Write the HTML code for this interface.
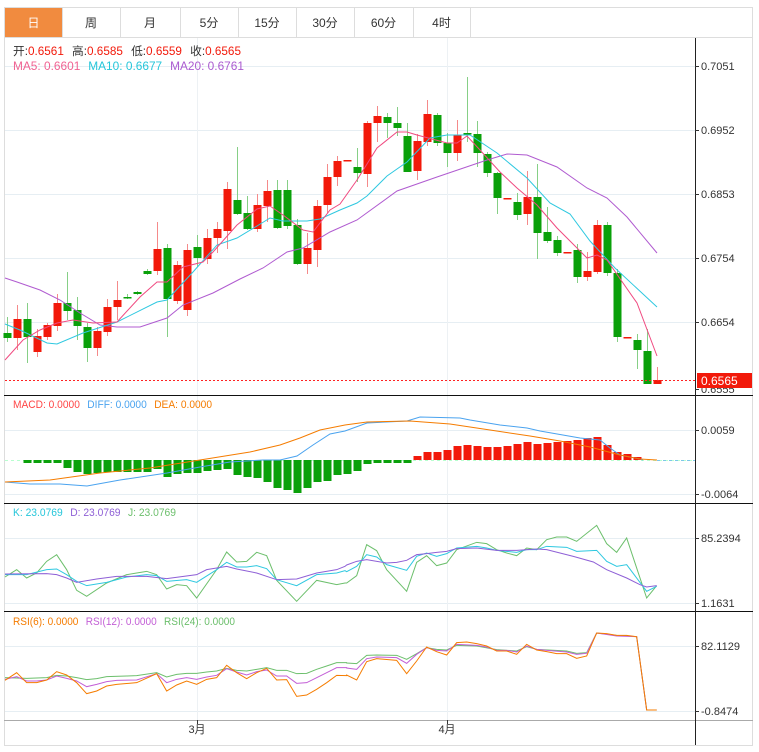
<!DOCTYPE html>
<html><head><meta charset="utf-8"><style>
body{margin:0;background:#fff;width:759px;height:752px;overflow:hidden;font-family:"Liberation Sans","Noto Sans CJK SC",sans-serif}
svg{position:absolute;left:0;top:0}
text{font-family:"Liberation Sans","Noto Sans CJK SC",sans-serif}
</style></head><body>
<svg id="s" width="759" height="752" xmlns="http://www.w3.org/2000/svg"></svg>
<script>
const s=document.getElementById('s');let h='';
const R='#f2190a',G='#0aa00a';
h+='<rect x="4.5" y="7.5" width="748" height="30" fill="#fff" stroke="#ddd"/>';
const tabs=[['日',5,62],['周',62,120],['月',120,180],['5分',180,238],['15分',238,296],['30分',296,354],['60分',354,413],['4时',413,470]];
tabs.forEach((t,i)=>{if(i==0)h+=`<rect x="${t[1]}" y="8" width="${t[2]-t[1]}" height="29" fill="#f18b3f"/>`;
h+=`<line x1="${t[2]+.5}" y1="8" x2="${t[2]+.5}" y2="37" stroke="#ddd"/>`;
h+=`<text x="${(t[1]+t[2])/2}" y="27" font-size="12" text-anchor="middle" fill="${i==0?'#fff':'#333'}">${t[0]}</text>`;});
h+='<rect x="4.5" y="37.5" width="748" height="708" fill="none" stroke="#ddd"/>';
[66,130,194,258,322,430,494,538,603,646,711].forEach(y=>h+=`<line x1="5" y1="${y+.5}" x2="695" y2="${y+.5}" stroke="#e6eef3"/>`);
[197,447].forEach(x=>h+=`<line x1="${x+.5}" y1="38" x2="${x+.5}" y2="720" stroke="#edf1f4"/>`);
[395,503,611].forEach(y=>h+=`<line x1="4" y1="${y+.5}" x2="753" y2="${y+.5}" stroke="#111"/>`);
h+='<line x1="4" y1="720.5" x2="753" y2="720.5" stroke="#aaa"/>';
h+='<line x1="695.5" y1="38" x2="695.5" y2="745" stroke="#222"/>';
[[66,'0.7051'],[130,'0.6952'],[194,'0.6853'],[258,'0.6754'],[322,'0.6654'],[389,'0.6555'],[430,'0.0059'],[494,'-0.0064'],[538,'85.2394'],[603,'1.1631'],[646,'82.1129'],[711,'-0.8474']].forEach(a=>{
h+=`<line x1="695" y1="${a[0]+.5}" x2="699" y2="${a[0]+.5}" stroke="#333"/><text x="701" y="${a[0]+4}" font-size="11" fill="#333">${a[1]}</text>`;});
h+='<text x="197" y="733" font-size="11" fill="#333" text-anchor="middle">3月</text><text x="447" y="733" font-size="11" fill="#333" text-anchor="middle">4月</text>';
h+='<line x1="197.5" y1="720" x2="197.5" y2="724" stroke="#333"/><line x1="447.5" y1="720" x2="447.5" y2="724" stroke="#333"/>';
h+=`<text x="13" y="55" font-size="11.5" textLength="228" lengthAdjust="spacingAndGlyphs"><tspan fill="#333">开:</tspan><tspan fill="${R}">0.6561</tspan><tspan fill="#333" dx="8">高:</tspan><tspan fill="${R}">0.6585</tspan><tspan fill="#333" dx="8">低:</tspan><tspan fill="${R}">0.6559</tspan><tspan fill="#333" dx="8">收:</tspan><tspan fill="${R}">0.6565</tspan></text>`;
h+='<text x="13" y="70" font-size="12" textLength="231" lengthAdjust="spacingAndGlyphs"><tspan fill="#f06292">MA5: 0.6601</tspan><tspan fill="#26c6da" dx="8">MA10: 0.6677</tspan><tspan fill="#ab5bd0" dx="8">MA20: 0.6761</tspan></text>';
h+='<text x="13" y="408" font-size="11" textLength="199" lengthAdjust="spacingAndGlyphs"><tspan fill="#f44">MACD: 0.0000</tspan><tspan fill="#4aa3ef" dx="8">DIFF: 0.0000</tspan><tspan fill="#f57c00" dx="8">DEA: 0.0000</tspan></text>';
h+='<text x="13" y="516" font-size="11" textLength="163" lengthAdjust="spacingAndGlyphs"><tspan fill="#26c6da">K: 23.0769</tspan><tspan fill="#8e5fd6" dx="8">D: 23.0769</tspan><tspan fill="#6cbf6c" dx="8">J: 23.0769</tspan></text>';
h+='<text x="13" y="625" font-size="11" textLength="222" lengthAdjust="spacingAndGlyphs"><tspan fill="#f57c00">RSI(6): 0.0000</tspan><tspan fill="#c35fd6" dx="8">RSI(12): 0.0000</tspan><tspan fill="#6cbf6c" dx="8">RSI(24): 0.0000</tspan></text>';
const C=[[0,333,338,317,342,G],[1,319,338,305,350,R],[2,319,337,303,363,G],[3,336,352,329,357,R],[4,325,337,323,340,R],[5,303,326,294,331,R],[6,303,311,272,320,G],[7,310,326,297,340,G],[8,327,348,323,362,G],[9,331,348,327,356,R],[10,307,332,299,336,R],[11,300,307,281,320,R],[12,297,298,294,299,G],[13,292,294,291,295,G],[14,271,274,269,275,G],[15,249,271,222,275,R],[16,248,299,244,337,G],[17,265,301,261,304,R],[18,250,310,244,316,R],[19,247,258,235,267,G],[20,238,259,229,264,R],[21,229,238,222,253,R],[22,189,231,182,249,R],[23,200,214,147,215,G],[24,213,229,196,230,G],[25,205,229,194,232,R],[26,191,206,180,222,R],[27,190,228,180,229,G],[28,190,226,180,229,G],[29,225,264,219,265,G],[30,248,264,233,274,R],[31,206,250,200,267,R],[32,177,205,164,213,R],[33,161,177,156,186,R],[34,160,161,160,161,R],[35,167,173,148,182,G],[36,123,174,121,187,R],[37,116,123,106,142,R],[38,117,123,113,138,G],[39,123,128,107,136,G],[40,136,172,123,172,G],[41,141,171,134,180,R],[42,114,142,100,146,R],[43,115,143,113,146,G],[44,143,153,133,167,G],[45,135,153,120,161,R],[46,133,134,77,142,G],[47,134,153,121,167,G],[48,154,173,152,177,G],[49,173,198,172,214,G],[50,198,199,198,199,R],[51,202,215,193,220,G],[52,197,214,171,225,R],[53,197,233,164,259,G],[54,232,241,207,243,G],[55,240,253,236,256,G],[56,252,253,252,253,R],[57,250,277,244,283,G],[58,271,277,252,281,R],[59,225,272,220,274,R],[60,225,273,222,276,G],[61,273,337,269,342,G],[62,337,338,337,338,R],[63,340,350,334,369,G],[64,351,384,329,384,G],[65,380,384,367,384,R]];
C.forEach(c=>{const x=7.5+10*c[0];const op=c[5]==R?'#f58a8a':'#86cf86';
h+=`<line x1="${x}" y1="${c[3]}" x2="${x}" y2="${c[4]}" stroke="${op}"/>`;
h+=`<rect x="${x-4}" y="${c[1]}" width="8" height="${Math.max(1.5,c[2]-c[1])}" fill="${c[5]}"/>`;});
const pl=(p,col,w)=>`<polyline fill="none" stroke="${col}" stroke-width="${w||1}" points="${p.map(q=>q.join(',')).join(' ')}"/>`;
const z=(p,ox,oy)=>p.map(q=>[ox+q[0]/3,oy+q[1]/3]);
h+=pl([[5,278],[17,282],[40,290],[60,300],[80,313],[100,325],[117,327],[140,327],[167,318],[183,305],[213,293],[240,279],[263,268],[287,252],[303,248],[330,232],[357,220],[397,191],[437,177],[487,160],[507,154],[527,155],[557,167],[587,188],[607,198],[627,217],[657,253]],'#b05bd0');
h+=pl([[5,324],[20,330],[47,343],[57,344],[83,333],[117,322],[157,302],[167,300],[193,272],[217,245],[237,238],[257,226],[270,218],[283,221],[307,221],[320,219],[340,210],[357,203],[367,196],[387,176],[407,162],[430,138],[447,135],[470,135],[497,153],[527,178],[550,203],[570,214],[590,241],[615,268],[657,307]],'#2ec8e0');
h+=pl([[5,360],[23,340],[40,330],[57,323],[73,320],[93,323],[117,322],[140,297],[157,282],[167,282],[183,267],[203,262],[213,252],[237,225],[257,209],[270,206],[283,215],[303,230],[313,232],[330,210],[340,204],[357,180],[377,148],[397,132],[407,132],[417,135],[447,143],[457,143],[467,136],[480,150],[500,172],[517,188],[537,205],[557,228],[567,238],[587,258],[597,255],[607,260],[637,303],[657,356]],'#f04a80');
h+='<line x1="5" y1="380.5" x2="695" y2="380.5" stroke="#f22" stroke-dasharray="2,2"/>';
h+='<rect x="697" y="373" width="55" height="15" fill="#f2190a"/><text x="701" y="385" font-size="12" fill="#fff">0.6565</text>';
h+='<line x1="5" y1="460.5" x2="695" y2="460.5" stroke="#9fb" stroke-dasharray="3,3" opacity=".7"/>';
h+='<line x1="657" y1="460.5" x2="695" y2="460.5" stroke="#7cc8e8" stroke-dasharray="3,3"/>';
const M=[[2,463],[3,463],[4,463],[5,463],[6,468],[7,472],[8,474],[9,473],[10,472],[11,472],[12,472],[13,472],[14,472],[15,469],[16,477],[17,474],[18,473],[19,473],[20,471],[21,470],[22,469],[23,475],[24,477],[25,478],[26,482],[27,488],[28,490],[29,493],[30,488],[31,482],[32,481],[33,475],[34,474],[35,471],[36,464],[37,463],[38,463],[39,463],[40,463],[41,456],[42,452],[43,452],[44,450],[45,446],[46,445],[47,446],[48,447],[49,447],[50,446],[51,444],[52,442],[53,444],[54,443],[55,442],[56,441],[57,440],[58,438],[59,437],[60,445],[61,452],[62,454],[63,457]];
M.forEach(m=>{const x=7.5+10*m[0];const y=m[1];if(y>460)h+=`<rect x="${x-4}" y="460" width="8" height="${y-460}" fill="${G}"/>`;else h+=`<rect x="${x-4}" y="${y}" width="8" height="${460-y}" fill="${R}"/>`;});
h+=pl([[5,482],[30,484],[60,484],[87,486],[120,480],[167,473],[200,467],[230,462],[263,460],[280,460],[297,456],[313,445],[330,434],[345,431],[367,423],[407,421],[420,417],[460,418],[470,420],[500,425],[527,428],[540,431],[580,438],[600,440],[610,448],[620,455],[640,459],[643,460]],'#4aa3ef');
h+=pl([[5,482],[50,480],[100,473],[150,468],[200,460],[250,452],[280,445],[300,438],[320,430],[345,425],[367,422],[410,421],[450,424],[490,430],[530,436],[560,441],[590,447],[620,455],[640,459],[657,460]],'#f57c00');
h+=pl(z([[15,222],[50,200],[80,225],[110,210],[140,175],[170,155],[200,200],[230,262],[260,280],[320,240],[380,215],[410,210],[440,205],[470,215],[500,258],[530,245],[560,248],[590,285],[650,200],[680,147],[710,177],[740,175],[770,148],[800,158],[830,232],[890,295],[950,232],[1010,245],[1035,240]],0,503).concat(z([[20,240],[50,218],[80,125],[110,143],[140,200],[200,265],[230,178],[260,158],[290,188],[320,180],[350,140],[410,118],[440,122],[470,140],[500,150],[530,158],[560,135],[590,140],[620,110],[650,102],[680,102],[710,115],[770,67],[800,122],[830,148],[860,105],[920,285],[950,248]],340,503)),'#6cbf6c');
h+=pl(z([[15,215],[80,215],[140,200],[170,198],[200,215],[230,235],[260,248],[320,238],[380,222],[440,215],[470,218],[500,235],[560,230],[590,238],[650,200],[680,178],[710,192],[740,192],[770,188],[800,197],[830,230],[890,248],[950,215],[1010,210],[1035,203]],0,503).concat(z([[20,206],[50,190],[80,155],[110,162],[140,185],[200,202],[230,160],[260,150],[290,160],[320,152],[350,135],[410,130],[440,135],[470,142],[530,148],[560,140],[590,140],[620,130],[680,133],[710,145],[770,142],[800,175],[830,190],[860,185],[920,265],[950,250]],340,503)),'#2ec8e0');
h+=pl(z([[15,213],[140,212],[170,215],[200,225],[230,238],[290,228],[350,220],[440,220],[500,227],[590,215],[620,200],[680,190],[710,198],[770,210],[830,230],[890,228],[950,210],[1010,200],[1035,190]],0,503).concat(z([[20,186],[50,175],[80,170],[140,180],[170,178],[200,172],[230,155],[260,152],[290,148],[320,145],[350,137],[410,135],[470,142],[530,142],[590,138],[620,140],[700,160],[760,177],[800,200],[860,225],[900,245],[920,252],[950,248]],340,503)),'#8e5fd6');
h+=pl(z([[15,200],[80,202],[140,200],[170,193],[200,195],[230,200],[260,206],[290,203],[320,197],[380,195],[410,194],[470,185],[500,198],[530,190],[560,187],[590,187],[620,183],[650,180],[680,172],[710,178],[740,180],[770,175],[800,170],[830,178],[860,178],[890,188],[920,187],[950,175],[980,165],[1010,155],[1040,155]],0,611).concat(z([[20,156],[50,158],[80,133],[110,132],[170,133],[200,145],[230,128],[260,110],[290,115],[320,117],[350,103],[410,105],[470,116],[530,120],[560,107],[590,115],[680,120],[710,127],[740,125],[770,66],[830,73],[890,77],[920,297],[950,297]],340,611)),'#6cbf6c');
h+=pl(z([[15,205],[50,197],[80,210],[110,210],[140,207],[170,195],[200,202],[230,210],[260,227],[290,220],[320,212],[350,208],[410,207],[470,188],[500,215],[530,205],[560,200],[590,205],[620,198],[650,193],[680,173],[710,183],[740,192],[770,182],[800,177],[830,195],[860,195],[890,217],[920,215],[950,200],[980,185],[1010,170],[1040,170]],0,611).concat(z([[20,171],[50,175],[80,143],[110,138],[170,140],[200,157],[230,130],[260,110],[290,118],[320,120],[350,100],[410,103],[440,108],[470,118],[500,118],[530,123],[560,105],[590,115],[620,118],[680,123],[710,130],[740,127],[770,66],[830,75],[890,77],[920,297],[950,297]],340,611)),'#c35fd6');
h+=pl(z([[15,208],[50,185],[80,215],[110,215],[140,207],[170,182],[200,192],[230,215],[260,248],[290,240],[320,225],[350,220],[410,215],[470,188],[500,240],[530,222],[560,210],[590,220],[620,205],[650,200],[680,163],[710,185],[740,203],[770,185],[800,172],[830,207],[860,206],[890,256],[920,252],[950,235],[980,215],[1010,193],[1040,194]],0,611).concat(z([[20,192],[50,207],[80,152],[110,143],[170,148],[200,188],[230,150],[260,108],[290,122],[320,132],[350,95],[380,93],[410,98],[440,105],[470,120],[500,120],[530,130],[560,100],[590,117],[620,122],[650,128],[680,128],[710,142],[740,135],[770,66],[800,68],[830,73],[860,73],[890,77],[920,297],[950,297]],340,611)),'#f57c00');
s.innerHTML=h;
</script>
</body></html>
